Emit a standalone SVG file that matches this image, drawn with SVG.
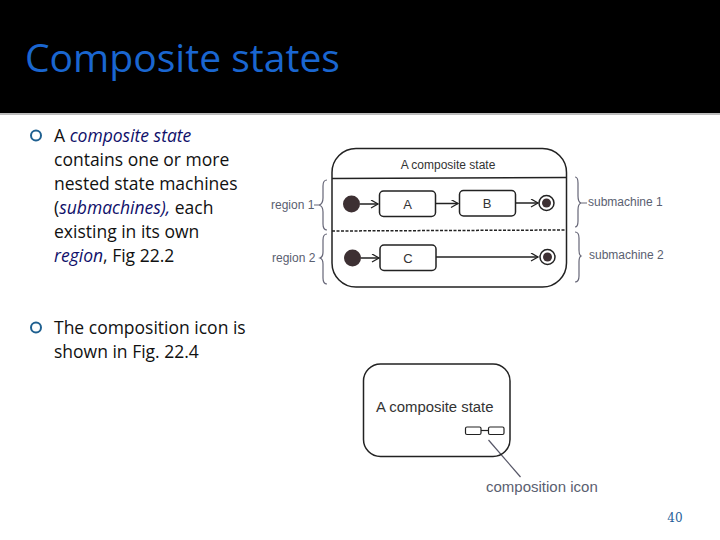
<svg xmlns="http://www.w3.org/2000/svg" width="720" height="540" viewBox="0 0 720 540">
<style>
.b{font-family:"Open Sans","Noto Sans",sans-serif;font-size:17.5px;fill:#111}
.i{font-style:italic;fill:#10106a}
.d{font-family:"Liberation Sans",Arial,sans-serif;fill:#333}
.l{font-family:"Liberation Sans",Arial,sans-serif;fill:#5a6070;font-size:12px}
.s{fill:none;stroke:#222;stroke-width:1.5}
.w{fill:#fff;stroke:#222;stroke-width:1.5}
.g{fill:none;stroke:#667;stroke-width:1.2}
.t{font-size:13px;text-anchor:middle}
</style>
<defs>
<marker id="a" markerWidth="10" markerHeight="10" refX="8" refY="4" orient="auto" markerUnits="userSpaceOnUse"><path d="M1 0L8 4L1 8" fill="none" stroke="#222" stroke-width="1.3"/></marker>
</defs>
<rect width="720" height="540" fill="#fff"/>
<g id="header">
<rect width="720" height="113" fill="#000"/>
<rect y="113" width="720" height="2" fill="#bbb"/>
<text x="25" y="71.500" font-family="'Open Sans','Noto Sans',sans-serif" font-size="38px" fill="#1a66d0" textLength="315" lengthAdjust="spacingAndGlyphs">Composite states</text>
</g>
<g id="bullets">
<circle cx="36" cy="135.500" r="5" fill="none" stroke="#1f6090" stroke-width="2"/>
<circle cx="36" cy="327.500" r="5" fill="none" stroke="#1f6090" stroke-width="2"/>
<text class="b" x="54" y="141.500">A <tspan class="i">composite state</tspan></text>
<text class="b" x="54" y="166">contains one or more</text>
<text class="b" x="54" y="190">nested state machines</text>
<text class="b" x="54" y="214">(<tspan class="i">submachines</tspan><tspan class="i">),</tspan> each</text>
<text class="b" x="54" y="238">existing in its own</text>
<text class="b" x="54" y="262"><tspan class="i">region</tspan>, Fig 22.2</text>
<text class="b" x="54" y="334">The composition icon is</text>
<text class="b" x="54" y="358">shown in Fig. 22.4</text>
</g>
<g id="composite1">
<rect class="s" x="332" y="148.500" width="234.500" height="138.500" rx="24"/>
<text class="d" x="448" y="169" font-size="12px" text-anchor="middle">A composite state</text>
<line class="s" x1="332" y1="178.500" x2="566" y2="177.500"/>
<line x1="332" y1="231" x2="566" y2="230" stroke="#222" stroke-width="1.5" stroke-dasharray="3 1.500"/>
</g>
<g id="connectors">
<line class="s" x1="360" y1="204" x2="378" y2="204" marker-end="url(#a)"/>
<line class="s" x1="435" y1="203.500" x2="458" y2="203.500" marker-end="url(#a)"/>
<line class="s" x1="515" y1="203" x2="538" y2="203" marker-end="url(#a)"/>
<line class="s" x1="361" y1="258" x2="379" y2="258" marker-end="url(#a)"/>
<line class="s" x1="436" y1="257" x2="538" y2="257" marker-end="url(#a)"/>
<line x1="488.500" y1="440" x2="520.500" y2="477" stroke="#556" stroke-width="1.200"/>
</g>
<g id="init1"><circle cx="351.500" cy="204" r="8.500" fill="#3d3033"/></g>
<g id="stateA"><rect class="w" x="379.500" y="191" width="56" height="25.500" rx="4"/><text class="d t" x="407.500" y="209">A</text></g>
<g id="stateB"><rect class="w" x="459.500" y="190.500" width="56" height="25.500" rx="4"/><text class="d t" x="487" y="208">B</text></g>
<g id="final1"><circle cx="546.500" cy="203" r="7.500" fill="#fff" stroke="#222" stroke-width="1.500"/><circle cx="546.500" cy="203" r="4.500" fill="#3d3033"/></g>
<g id="init2"><circle cx="352.500" cy="258" r="8.500" fill="#3d3033"/></g>
<g id="stateC"><rect class="w" x="380" y="245" width="56" height="25.500" rx="4"/><text class="d t" x="408" y="263">C</text></g>
<g id="final2"><circle cx="547.500" cy="257" r="7.500" fill="#fff" stroke="#222" stroke-width="1.500"/><circle cx="547.500" cy="257" r="4.500" fill="#3d3033"/></g>
<g id="braces">
<path class="g" d="M327 180Q323 180 323 186V198Q323 204 319 205H314M319 205Q323 206 323 212V224Q323 230 327 230"/>
<path class="g" d="M327 234Q323 234 323 240V252Q323 257 320 258Q323 259 323 264V278Q323 284 327 284"/>
<path class="g" d="M575 177Q578 177 578 183V196Q578 202 581 203H587M581 203Q578 204 578 210V221Q578 227 575 227"/>
<path class="g" d="M575 232Q579 232 579 238V250Q579 255 581 256Q579 257 579 262V276Q579 282 575 282"/>
</g>
<g id="labels">
<text class="l" x="271" y="209">region 1</text>
<text class="l" x="272" y="262">region 2</text>
<text class="l" x="588" y="206">submachine 1</text>
<text class="l" x="589" y="259">submachine 2</text>
</g>
<g id="composite2">
<rect x="363.500" y="364" width="146.500" height="92.500" rx="17" fill="none" stroke="#222" stroke-width="1.500"/>
<text class="d" x="376" y="412" font-size="14.900px">A composite state</text>
<rect x="465.500" y="427" width="15.500" height="7.500" rx="1.500" fill="#fff" stroke="#222" stroke-width="1.200"/>
<rect x="488.500" y="427" width="15.500" height="7.500" rx="1.500" fill="#fff" stroke="#222" stroke-width="1.200"/>
<line x1="481" y1="430.500" x2="488.500" y2="430.500" stroke="#222" stroke-width="1.200"/>
<text x="486" y="492" font-family="'Liberation Sans',Arial,sans-serif" font-size="15px" fill="#5a6070">composition icon</text>
</g>
<text id="page" x="675" y="521.500" font-family="'DejaVu Serif',serif" font-size="12px" fill="#1f5f99" text-anchor="middle">40</text>
</svg>
